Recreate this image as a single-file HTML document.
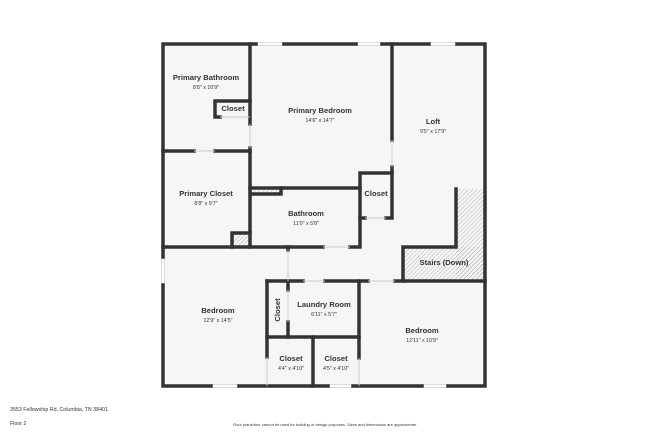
<!DOCTYPE html>
<html><head><meta charset="utf-8"><style>
html,body{margin:0;padding:0;background:#fff;width:650px;height:433px;overflow:hidden}
svg{display:block}
text{font-family:"Liberation Sans",sans-serif;fill:#333;text-anchor:middle}
.n{font-size:7.6px;font-weight:bold}
.d{font-size:5.3px}
</style></head><body>
<svg width="650" height="433" viewBox="0 0 650 433" xmlns="http://www.w3.org/2000/svg">
<defs>
<pattern id="h" width="3" height="3" patternUnits="userSpaceOnUse" patternTransform="rotate(45)">
<line x1="0" y1="0" x2="0" y2="3" stroke="#999" stroke-width="0.7"/>
</pattern>
</defs>
<rect x="163" y="44" width="323" height="342" fill="#f6f6f6"/>
<rect x="456" y="189" width="29" height="92" fill="url(#h)"/>
<rect x="403" y="247" width="82" height="34" fill="url(#h)"/>
<rect x="252" y="188" width="29" height="6" fill="url(#h)"/>
<rect x="232" y="233" width="18" height="14" fill="url(#h)"/>
<!-- windows -->
<g fill="#fff" stroke="#ccc" stroke-width="0.7">
<rect x="256" y="42.5" width="28" height="3"/>
<rect x="356" y="42.5" width="26" height="3"/>
<rect x="429" y="42.5" width="28" height="3"/>
<rect x="161.5" y="257" width="3" height="28"/>
<rect x="211" y="384.5" width="28" height="3"/>
<rect x="328" y="384.5" width="25" height="3"/>
<rect x="422" y="384.5" width="26" height="3"/>
</g>
<g stroke="#333" stroke-width="3.5" fill="none" stroke-linecap="square">
<path d="M163 44H256M284 44H356M382 44H429M457 44H485V386H448M422 386H353M328 386H239M211 386H163V285M163 257V44"/>
<path d="M250 44V124M250 148V247"/>
<path d="M163 151H194M215 151H250"/>
<path d="M220 117H215V101H250"/>
<path d="M392 44V140M392 167V218H386M365 218H360"/>
<path d="M360 245V173H392"/>
<path d="M250 188H360"/>
<path d="M252 194H281V188"/>
<path d="M232 247V233H250"/>
<path d="M163 247H288M252 247H323M350 247H360"/>
<path d="M288 247V250"/>
<path d="M456 189V247H403V281"/>
<path d="M267 281H303M325 281H368M395 281H485"/>
<path d="M267 281V357"/>
<path d="M288 281V290M288 322V337"/>
<path d="M359 281V358"/>
<path d="M267 337H359"/>
<path d="M313 337V386"/>
</g>
<g stroke="#ccc" stroke-width="1" fill="none">
<path d="M220 117H250M386 218H365M288 250V281M288 290V322M267 357V386M359 358V386M194 151H215M323 247H350M303 281H325M368 281H395M250 124V148M392 140V167"/>
</g>
<text class="n" x="206" y="80">Primary Bathroom</text><text class="d" x="206" y="89">8'8" x 10'9"</text>
<text class="n" x="233" y="111">Closet</text>
<text class="n" x="320" y="113">Primary Bedroom</text><text class="d" x="320" y="122">14'6" x 14'7"</text>
<text class="n" x="433" y="124">Loft</text><text class="d" x="433" y="133">9'5" x 17'9"</text>
<text class="n" x="206" y="196">Primary Closet</text><text class="d" x="206" y="205">8'8" x 9'7"</text>
<text class="n" x="376" y="196">Closet</text>
<text class="n" x="306" y="216">Bathroom</text><text class="d" x="306" y="225">11'0" x 5'8"</text>
<text class="n" x="444" y="265">Stairs (Down)</text>
<text class="n" x="218" y="313">Bedroom</text><text class="d" x="218" y="322">12'9" x 14'5"</text>
<text class="n" x="280" y="310" transform="rotate(-90 280 310)">Closet</text>
<text class="n" x="324" y="307">Laundry Room</text><text class="d" x="324" y="316">6'11" x 5'7"</text>
<text class="n" x="422" y="333">Bedroom</text><text class="d" x="422" y="342">12'11" x 10'9"</text>
<text class="n" x="291" y="361">Closet</text><text class="d" x="291" y="370">4'4" x 4'10"</text>
<text class="n" x="336" y="361">Closet</text><text class="d" x="336" y="370">4'5" x 4'10"</text>
<text class="d" x="10" y="411" style="text-anchor:start">3553 Fellowship Rd, Columbia, TN 38401</text>
<text class="d" x="10" y="425" style="text-anchor:start">Floor 2</text>
<text x="325" y="426" style="font-size:4px">Floor plans/tour cannot be used for building or design purposes. Sizes and dimensions are approximate.</text>
</svg>
</body></html>
